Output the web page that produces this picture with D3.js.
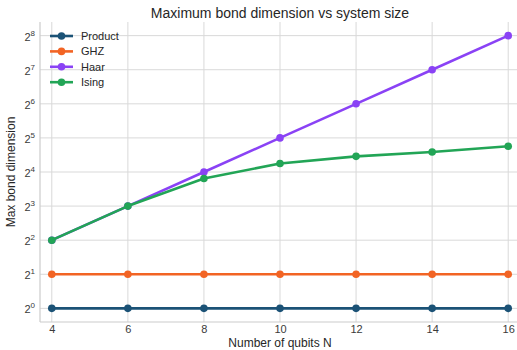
<!DOCTYPE html>
<html>
<head>
<meta charset="utf-8">
<script src="https://cdn.jsdelivr.net/npm/d3@7"></script>
<style>
  html, body { margin: 0; padding: 0; background: #fff; }
  svg { display: block; font-family: "Liberation Sans", Arial, sans-serif; }
</style>
</head>
<body>
<svg id="chart" width="517" height="350"></svg>
<script>
// Qubit counts and maximum bond dimension per state family
const qubits = [4, 6, 8, 10, 12, 14, 16];
const productDim = [1, 1, 1, 1, 1, 1, 1];
const ghzDim = [2, 2, 2, 2, 2, 2, 2];
const haarDim = [4, 8, 16, 32, 64, 128, 256];
const isingDim = [4, 8, 14, 19, 22, 24, 27];
const yTickExponents = [0, 1, 2, 3, 4, 5, 6, 7, 8];

const seriesNames = ["Product", "GHZ", "Haar", "Ising"];
const seriesValues = [productDim, ghzDim, haarDim, isingDim];
const seriesColors = ["#1b5276", "#f26424", "#8a42f5", "#22a556"];

const svg = d3.select("#chart");
const margin = { left: 40, top: 22, right: -3, bottom: 28 };
const W = 517, H = 350;
const plotLeft = margin.left, plotRight = W - margin.right;
const plotTop = margin.top, plotBottom = H - margin.bottom;

const x = d3.scaleLinear().domain([3.69, 16.31]).range([plotLeft, plotRight]);
const y = d3.scaleLog().base(2).domain([Math.pow(2, -0.4), Math.pow(2, 8.4)]).range([plotBottom, plotTop]);

// Grid
const grid = svg.append("g");
grid.selectAll("line.v").data(qubits).join("line")
  .attr("x1", d => x(d)).attr("x2", d => x(d))
  .attr("y1", plotTop).attr("y2", plotBottom)
  .attr("stroke", "#d9d9d9").attr("stroke-width", 1);
grid.selectAll("line.h").data(yTickExponents).join("line")
  .attr("x1", plotLeft).attr("x2", plotRight)
  .attr("y1", d => y(Math.pow(2, d))).attr("y2", d => y(Math.pow(2, d)))
  .attr("stroke", "#d9d9d9").attr("stroke-width", 1);

// Spines
svg.append("line").attr("x1", plotLeft).attr("x2", plotLeft)
  .attr("y1", plotTop).attr("y2", plotBottom).attr("stroke", "#cccccc").attr("stroke-width", 1.2);
svg.append("line").attr("x1", plotLeft).attr("x2", plotRight)
  .attr("y1", plotBottom).attr("y2", plotBottom).attr("stroke", "#cccccc").attr("stroke-width", 1.2);

// X tick labels
const xAxis = d3.axisBottom(x).tickValues(qubits).tickSize(0).tickPadding(3).tickFormat(d3.format("d"));
const gx = svg.append("g").attr("transform", `translate(0,${plotBottom})`).call(xAxis);
gx.select(".domain").remove();
gx.selectAll("text").attr("font-size", 11).attr("fill", "#3a3a3a")
  .attr("font-family", "Liberation Sans, Arial, sans-serif");

// Y tick labels as 2 with superscript exponent
const gy = svg.append("g");
yTickExponents.forEach(e => {
  const t = gy.append("text")
    .attr("x", 35).attr("y", y(Math.pow(2, e)) + 5)
    .attr("text-anchor", "end").attr("font-size", 11).attr("fill", "#3a3a3a");
  t.append("tspan").text("2");
  t.append("tspan").attr("dy", -5).attr("font-size", 8).text(String(e));
});

// Lines and markers
const line = d3.line().x((d, i) => x(qubits[i])).y(d => y(d));
seriesValues.forEach((vals, k) => {
  const g = svg.append("g");
  g.append("path").datum(vals).attr("d", line)
    .attr("fill", "none").attr("stroke", seriesColors[k]).attr("stroke-width", 2.6)
    .attr("stroke-linejoin", "round");
  g.selectAll("circle").data(vals).join("circle")
    .attr("cx", (d, i) => x(qubits[i])).attr("cy", d => y(d)).attr("r", 3.8)
    .attr("fill", seriesColors[k]);
});

// Legend
const legend = svg.append("g");
seriesNames.forEach((name, k) => {
  const ly = 36 + k * 15.4;
  legend.append("line").attr("x1", 50).attr("x2", 73).attr("y1", ly).attr("y2", ly)
    .attr("stroke", seriesColors[k]).attr("stroke-width", 2.6);
  legend.append("circle").attr("cx", 61.5).attr("cy", ly).attr("r", 3.8).attr("fill", seriesColors[k]);
  legend.append("text").attr("x", 81).attr("y", ly + 4).attr("font-size", 11)
    .attr("fill", "#262626").text(name);
});

// Title and axis labels
svg.append("text").attr("x", 280).attr("y", 18).attr("text-anchor", "middle")
  .attr("font-size", 14).attr("fill", "#262626").text("Maximum bond dimension vs system size");
svg.append("text").attr("x", 280).attr("y", 347).attr("text-anchor", "middle")
  .attr("font-size", 12).attr("fill", "#262626").text("Number of qubits N");
svg.append("text").attr("transform", `translate(15,${(plotTop + plotBottom) / 2}) rotate(-90)`)
  .attr("text-anchor", "middle").attr("font-size", 12).attr("fill", "#262626").text("Max bond dimension");
</script>
</body>
</html>
